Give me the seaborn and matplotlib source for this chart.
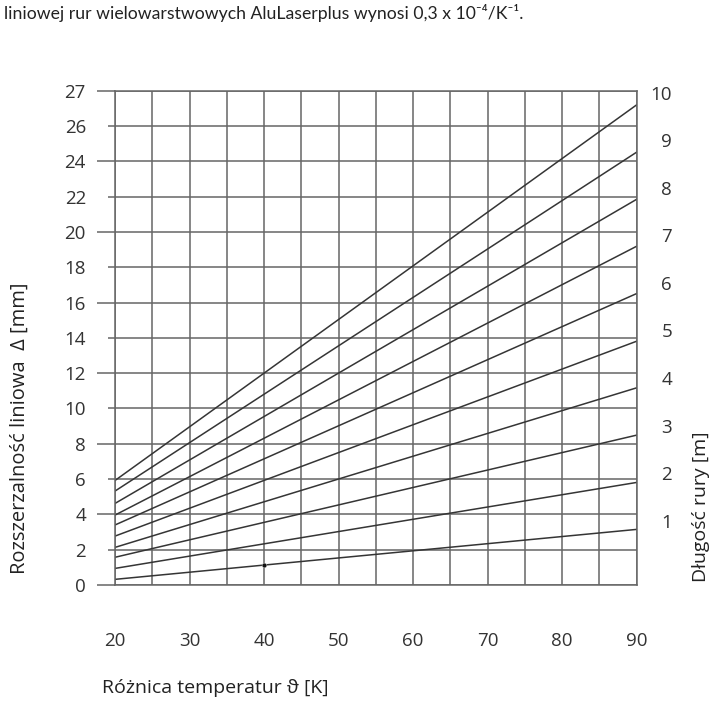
import matplotlib
matplotlib.use("Agg")
import matplotlib.pyplot as plt
from matplotlib.ticker import FixedLocator, FixedFormatter
import seaborn as sns
import pandas as pd

# ---- data ----
pipe_lengths = [1, 2, 3, 4, 5, 6, 7, 8, 9, 10]          # m
temps = [20, 90]                                         # K (straight lines)
delta_at_20 = [0.32, 0.94, 1.57, 2.13, 2.77, 3.40, 3.96, 4.62, 5.32, 5.92]
delta_at_90 = [3.15, 5.81, 8.49, 11.17, 13.81, 16.51, 19.19, 21.85, 24.52, 27.20]
dot_x = [40]
dot_y = [1.13]
left_tick_vals = [0, 2, 4, 6, 8, 10, 12, 14, 16, 18, 20, 22, 24, 26, 28]
left_tick_text = ["0", "2", "4", "6", "8", "10", "12", "14", "16", "18",
                  "20", "22", "24", "26", "27"]
right_tick_vals = [3.64, 6.32, 9.00, 11.70, 14.43, 17.13, 19.81, 22.51, 25.18, 27.86]
right_tick_text = ["1", "2", "3", "4", "5", "6", "7", "8", "9", "10"]
x_major = [20, 30, 40, 50, 60, 70, 80, 90]
x_minor = [25, 35, 45, 55, 65, 75, 85]

title_txt = "liniowej rur wielowarstwowych AluLaserplus wynosi 0,3 x 10\u207b\u2074/K\u207b\u00b9."
xlabel_txt = "Różnica temperatur \u03d1 [K]"
ylabel_txt = "Rozszerzalność liniowa  \u0394 [mm]"
y2label_txt = "Długość rury [m]"

rows = []
for L, a, b in zip(pipe_lengths, delta_at_20, delta_at_90):
    rows.append({"T": temps[0], "d": a, "L": L})
    rows.append({"T": temps[1], "d": b, "L": L})
df = pd.DataFrame(rows)

sns.set_style("white")
FAM = ["Open Sans", "DejaVu Sans"]
plt.rcParams["font.family"] = FAM

W, H = 711, 725
fig = plt.figure(figsize=(W / 100, H / 100), dpi=100)
x0, x1, y0, y1 = 115, 636.7, 585, 90.7
ax = fig.add_axes([x0 / W, 1 - y0 / H, (x1 - x0) / W, (y0 - y1) / H])

grid_c = "#666666"
line_c = "#353535"
txt_c = "#333333"
TS = 13.5

sns.lineplot(data=df, x="T", y="d", units="L", estimator=None, color=line_c,
             lw=1.1, ax=ax, legend=False)
sns.scatterplot(x=dot_x, y=dot_y, color="#111111", s=12, ax=ax, zorder=5,
                legend=False)

ax.set_xlim(20, 90)
ax.set_ylim(0, 28)

# x ticks
ax.xaxis.set_major_locator(FixedLocator(x_major))
ax.xaxis.set_minor_locator(FixedLocator(x_minor))
ax.set_xticklabels([str(v) for v in x_major])
ax.tick_params(axis="x", which="major", length=25.2, width=1.1, color=grid_c,
               direction="out", pad=9, labelsize=TS, labelcolor=txt_c)
ax.tick_params(axis="x", which="minor", length=15.1, width=1.1, color=grid_c,
               direction="out")

# y ticks: long ticks at multiples of 4, short at others
maj_idx = [i for i, v in enumerate(left_tick_vals) if v % 4 == 0]
min_idx = [i for i, v in enumerate(left_tick_vals) if v % 4 != 0]
ax.yaxis.set_major_locator(FixedLocator([left_tick_vals[i] for i in maj_idx]))
ax.yaxis.set_major_formatter(FixedFormatter([left_tick_text[i] for i in maj_idx]))
ax.yaxis.set_minor_locator(FixedLocator([left_tick_vals[i] for i in min_idx]))
ax.yaxis.set_minor_formatter(FixedFormatter([left_tick_text[i] for i in min_idx]))
ax.tick_params(axis="y", which="major", length=13.2, width=1.1, color=grid_c,
               direction="out", pad=7.7, labelsize=TS, labelcolor=txt_c)
ax.tick_params(axis="y", which="minor", length=5.0, width=1.1, color=grid_c,
               direction="out", pad=15.8, labelsize=TS, labelcolor=txt_c)

ax.grid(True, which="both", color=grid_c, lw=1.1)
ax.set_axisbelow(True)
for s in ax.spines.values():
    s.set_color(grid_c)
    s.set_linewidth(1.1)
ax.set_xlabel("")
ax.set_ylabel("")

# right axis labels (pipe length)
ax2 = ax.twinx()
ax2.set_ylim(0, 28)
ax2.yaxis.set_major_locator(FixedLocator(right_tick_vals))
ax2.yaxis.set_major_formatter(FixedFormatter(right_tick_text))
ax2.tick_params(axis="y", length=0, pad=25.5, labelsize=TS, labelcolor=txt_c)
for lab in ax2.get_yticklabels():
    lab.set_horizontalalignment("right")
for s in ax2.spines.values():
    s.set_visible(False)
ax2.grid(False)

# texts
fig.text(4 / W, 1 - 13 / H, title_txt, fontsize=12.7, color="#222222",
         ha="left", va="center", family=["Lato", "DejaVu Sans"])
fig.text(102 / W, 1 - 688 / H, xlabel_txt, fontsize=14, color="#222222",
         ha="left", va="center", family=FAM)
fig.text(20 / W, 1 - 428 / H, ylabel_txt, fontsize=14.5, color="#222222",
         ha="center", va="center", rotation=90, family=FAM)
fig.text(701 / W, 1 - 507 / H, y2label_txt, fontsize=14, color="#222222",
         ha="center", va="center", rotation=90, family=FAM)

fig.savefig("out.png", dpi=100, facecolor="white")
